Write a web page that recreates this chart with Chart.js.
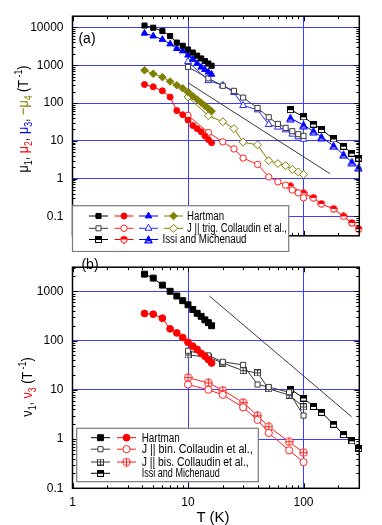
<!DOCTYPE html>
<html>
<head>
<meta charset="utf-8">
<script src="https://cdn.jsdelivr.net/npm/chart.js@4.4.0/dist/chart.umd.min.js"></script>
<style>
  body { margin: 0; background: #fff; width: 382px; height: 525px; position: relative; overflow: hidden;
         font-family: "Liberation Sans", Arial, sans-serif; }
  canvas { position: absolute; left: 0; }
  #panelA { top: 0; }
  #panelB { top: 251px; }
  .txt { position: absolute; white-space: nowrap; color: #000; transform: translate(-50%, -50%); }
  .ytitle { font-size: 15px; transform: translate(-50%, -50%) rotate(-90deg) scaleX(0.84); }
  .ytitle sub, .ytitle sup { font-size: 70%; }
  .red { color: #ff0000; } .blue { color: #0000ff; } .olive { color: #808000; }
</style>
</head>
<body>
<canvas id="panelA" width="382" height="252"></canvas>
<canvas id="panelB" width="382" height="274"></canvas>

<div class="txt" style="left:87px; top:38px; font-size:14px;">(a)</div>
<div class="txt" style="left:90px; top:264px; font-size:14px;">(b)</div>
<div class="txt ytitle" style="left:23px; top:119px;">μ<sub>1</sub>, <span class="red">μ<sub>2</sub></span>, <span class="blue">μ<sub>3</sub></span>, <span class="olive">−μ<sub>4</sub></span> (T<sup> -1</sup>)</div>
<div class="txt ytitle" style="left:27px; top:387px;">ν<sub>1</sub>, <span class="red">ν<sub>3</sub></span> (T<sup> -1</sup>)</div>
<div class="txt" style="left:213px; top:516px; font-size:15px;">T (K)</div>

<script>
// Shared x axis (temperature, K)
const xTickValues = [1, 10, 100];

// Hartman, panel (a) and (b)
const hartT = [4.2, 5, 6, 7, 8, 9, 10, 11, 12, 13, 14, 15, 16];
const hartMu1 = [11200, 9800, 8000, 5900, 3960, 3260, 2600, 2160, 1790, 1510, 1290, 1110, 970];
const hartMu2 = [308, 268, 210, 144, 63, 49, 35.5, 25.3, 21, 17.3, 13.5, 10.8, 8.9];
const hartMu3 = [7000, 5900, 4800, 3650, 2750, 2380, 1850, 1425, 1110, 885, 764, 655, 575];
const hartMu4 = [733, 594, 484, 371, 295, 245, 195, 152, 124, 102, 85, 71, 61];
const hartNu1 = [2230, 1850, 1335, 1000, 803, 645, 532, 427, 358, 310, 263, 231, 200];
const hartNu3 = [354, 343, 284, 173, 143, 115, 92, 77, 66, 55, 48, 41, 35];

// Collaudin et al., J || trig.
const trigT = [10, 15, 20, 25, 30, 40, 50, 60, 70, 80, 90, 100];
const trigMu1 = [900, 450, 285, 210, 139, 74, 42, 28, 22, 18, 15, 13.5];
const trigMu2 = [47, 16.6, 9.4, 6.1, 3.5, 2.37, 1.11, 0.82, 0.67, 0.5, 0.42, 0.31];
const trigMu3 = [1250, 390, 295, 190, 86, 66, 27, 23, 19.5, 15, 12.8, 11];
const trigMu4 = [144, 46, 32, 21, 9.2, 7.8, 3.0, 2.5, 2.2, 1.75, 1.5, 1.28];

// Collaudin et al., J || bin. and J || bis.
const binT = [10, 15, 20, 30, 40, 50, 75, 100];
const binNu1 = [62, 50, 37, 32, 12.8, 11.4, 8.9, 3.0];
const binNu3 = [12.8, 10, 7.9, 4.4, 2.45, 1.33, 0.59, 0.34];
const bisNu1 = [51, 46, 35, 24.5, 22, 10.5, 7.8, 4.5];
const bisNu3 = [17.7, 13.8, 9.8, 5.5, 2.97, 1.78, 0.88, 0.53];

// Issi and Michenaud
const issiT = [77, 100, 122, 143, 182, 222, 262, 300];
const issiMu1 = [67, 43, 27.7, 20, 11.2, 7.2, 4.7, 3.5];
const issiMu2 = [0.63, 0.41, 0.31, 0.214, 0.158, 0.1, 0.067, 0.046];
const issiMu3 = [40, 26, 18, 12.5, 7.4, 4.3, 2.75, 1.95];
const issiNu1 = [10.3, 6.8, 4.6, 3.5, 2.0, 1.23, 0.92, 0.64];

// T^-2 guide lines
const guideAT = [10, 170];
const guideAV = [344, 1.34];
const guideBT = [15.3, 261];
const guideBV = [803, 2.83];

const RED = '#ff0000', BLUE = '#0000ff', OLIVE = '#808000', BLACK = '#000000', GREY = '#3a3a3a';
const GRID = '#3c3cff';

// Small canvas markers for the half-filled / crossed symbols
function makeIcon(kind, color, size) {
  const c = document.createElement('canvas');
  c.width = size; c.height = size;
  const g = c.getContext('2d');
  const m = size / 2, r = m - 0.7;
  g.lineWidth = 1;
  g.strokeStyle = color;
  g.fillStyle = '#fff';
  if (kind === 'halfSquare' || kind === 'plusSquare') {
    g.fillRect(0.5, 0.5, size - 1, size - 1);
    if (kind === 'halfSquare') {
      g.fillStyle = color;
      g.fillRect(0.5, 0.5, size - 1, m);
    } else {
      g.beginPath();
      g.moveTo(m, 0.5); g.lineTo(m, size - 0.5);
      g.moveTo(0.5, m); g.lineTo(size - 0.5, m);
      g.stroke();
    }
    g.strokeRect(0.5, 0.5, size - 1, size - 1);
  } else if (kind === 'halfCircle' || kind === 'plusCircle') {
    g.beginPath(); g.arc(m, m, r, 0, 2 * Math.PI); g.fill();
    if (kind === 'halfCircle') {
      g.fillStyle = color;
      g.beginPath(); g.arc(m, m, r, Math.PI, 2 * Math.PI); g.closePath(); g.fill();
    } else {
      g.beginPath();
      g.moveTo(m, m - r); g.lineTo(m, m + r);
      g.moveTo(m - r, m); g.lineTo(m + r, m);
      g.stroke();
    }
    g.beginPath(); g.arc(m, m, r, 0, 2 * Math.PI); g.stroke();
  } else if (kind === 'halfTri') {
    g.beginPath();
    g.moveTo(m, 0.7); g.lineTo(size - 0.7, size - 1); g.lineTo(0.7, size - 1); g.closePath();
    g.fillStyle = color; g.fill();
    g.fillStyle = '#fff';
    g.fillRect(2.5, size - 2.6, size - 5, 1.2);
    g.stroke();
  }
  return c;
}

function series(xs, ys, color, style, radius, fill, extra) {
  return Object.assign({
    data: xs.map((x, i) => ({ x: x, y: ys[i] })),
    showLine: true,
    borderColor: color,
    borderWidth: 1,
    pointStyle: style,
    pointRadius: radius,
    pointBorderColor: color,
    pointBackgroundColor: fill,
    pointBorderWidth: 1,
    clip: 3
  }, extra || {});
}

function guide(xs, ys) {
  return {
    data: xs.map((x, i) => ({ x: x, y: ys[i] })),
    showLine: true, borderColor: GREY, borderWidth: 1, pointRadius: 0
  };
}

// Values m*10^k inside [min, max], with major flag for decades
function logMarks(min, max) {
  const out = [];
  for (let k = Math.floor(Math.log10(min)); k <= Math.ceil(Math.log10(max)); k++) {
    for (let m = 1; m <= 9; m++) {
      const v = m * Math.pow(10, k);
      if (v >= min * 0.999 && v <= max * 1.001) out.push({ v: v, major: m === 1 });
    }
  }
  return out;
}

function drawLegend(chart, L) {
  const ctx = chart.ctx;
  const sets = chart.data.datasets;
  ctx.save();
  ctx.fillStyle = '#fff';
  ctx.fillRect(L.x, L.y, L.w, L.h);
  ctx.strokeStyle = '#7a7a7a';
  ctx.lineWidth = 1.2;
  ctx.strokeRect(L.x, L.y, L.w, L.h);
  ctx.font = '12px "Liberation Sans", Arial, sans-serif';
  ctx.textBaseline = 'middle';
  L.rows.forEach(row => {
    row.items.forEach((idx, j) => {
      const d = sets[idx];
      const cx = L.cols[j];
      ctx.strokeStyle = d.borderColor;
      ctx.lineWidth = 1;
      ctx.beginPath();
      ctx.moveTo(cx - 9.5, row.y); ctx.lineTo(cx + 9.5, row.y);
      ctx.stroke();
      ctx.fillStyle = d.pointBackgroundColor;
      ctx.strokeStyle = d.pointBorderColor;
      Chart.helpers.drawPoint(ctx, {
        pointStyle: d.pointStyle, radius: d.pointRadius, rotation: 0, borderWidth: 1
      }, cx, row.y);
    });
    ctx.fillStyle = '#000';
    // the source uses a narrow face, so squeeze to the measured width
    ctx.fillText(row.text, row.tx, row.y + 0.5, row.tw);
  });
  ctx.restore();
}

// Frame with inward ticks on all four sides, then the legend box
const framePlugin = {
  id: 'frame',
  afterDatasetsDraw(chart, args, opts) {
    const ctx = chart.ctx, a = chart.chartArea;
    const xs = chart.scales.x, ys = chart.scales.y;
    ctx.save();
    ctx.strokeStyle = '#000';
    ctx.lineWidth = 1;
    ctx.beginPath();
    logMarks(xs.min, xs.max).forEach(t => {
      const p = Math.round(xs.getPixelForValue(t.v)) + 0.5;
      const len = t.major ? 5 : 3;
      ctx.moveTo(p, a.bottom); ctx.lineTo(p, a.bottom - len);
      ctx.moveTo(p, a.top); ctx.lineTo(p, a.top + len);
    });
    logMarks(ys.min, ys.max).forEach(t => {
      const p = Math.round(ys.getPixelForValue(t.v)) + 0.5;
      const len = t.major ? 5 : 3;
      ctx.moveTo(a.left, p); ctx.lineTo(a.left + len, p);
      ctx.moveTo(a.right, p); ctx.lineTo(a.right - len, p);
    });
    ctx.stroke();
    ctx.lineWidth = 1.5;
    ctx.strokeRect(a.left, a.top, a.right - a.left, a.bottom - a.top);
    ctx.restore();
    if (opts && opts.legend) drawLegend(chart, opts.legend);
  }
};

function panelOptions(yMin, yMax, yTicks, padding, xHeight, showXLabels, legend) {
  return {
    responsive: false,
    devicePixelRatio: 1,
    animation: false,
    events: [],
    layout: { padding: padding },
    plugins: {
      legend: { display: false },
      tooltip: { enabled: false },
      frame: { legend: legend }
    },
    scales: {
      x: {
        type: 'logarithmic',
        min: 1,
        max: 304,
        afterBuildTicks: s => { s.ticks = xTickValues.map(v => ({ value: v, major: true })); },
        afterFit: s => { s.height = xHeight; },
        grid: { color: GRID, lineWidth: 1, drawTicks: false },
        border: { display: false },
        ticks: {
          display: showXLabels,
          padding: 7,
          color: '#000',
          font: { family: '"Liberation Sans", Arial, sans-serif', size: 12 },
          maxRotation: 0,
          callback: v => String(v)
        }
      },
      y: {
        type: 'logarithmic',
        min: yMin,
        max: yMax,
        afterBuildTicks: s => { s.ticks = yTicks.map(v => ({ value: v, major: true })); },
        afterFit: s => { s.width = 72.5; },
        grid: { color: GRID, lineWidth: 1, drawTicks: false },
        border: { display: false },
        ticks: {
          padding: 9,
          color: '#000',
          font: { family: '"Liberation Sans", Arial, sans-serif', size: 12 },
          callback: v => String(v)
        }
      }
    }
  };
}

const yTicksA = [0.1, 1, 10, 100, 1000, 10000];
const yTicksB = [0.1, 1, 10, 100, 1000];

const issiSquare = makeIcon('halfSquare', BLACK, 7);
const issiCircle = makeIcon('halfCircle', RED, 8);
const issiTri = makeIcon('halfTri', BLUE, 9);
const bisSquare = makeIcon('plusSquare', GREY, 7);
const bisCircle = makeIcon('plusCircle', '#ff2020', 9);

// Panel (a)
new Chart(document.getElementById('panelA'), {
  type: 'scatter',
  data: {
    datasets: [
      series(hartT, hartMu1, BLACK, 'rect', 3.6, BLACK),            // 0
      series(hartT, hartMu2, RED, 'circle', 3, RED),                // 1
      series(hartT, hartMu3, BLUE, 'triangle', 3.8, BLUE),          // 2
      series(hartT, hartMu4, OLIVE, 'rectRot', 3.8, OLIVE),         // 3
      series(trigT, trigMu1, GREY, 'rect', 3.6, '#fff'),            // 4
      series(trigT, trigMu2, '#ff2020', 'circle', 3.2, '#fff'),     // 5
      series(trigT, trigMu3, '#2a2aff', 'triangle', 4, '#fff'),     // 6
      series(trigT, trigMu4, OLIVE, 'rectRot', 4, '#fff'),          // 7
      series(issiT, issiMu1, BLACK, issiSquare, 3.5, '#fff'),       // 8
      series(issiT, issiMu2, RED, issiCircle, 3.5, '#fff'),         // 9
      series(issiT, issiMu3, BLUE, issiTri, 3.5, '#fff'),           // 10
      guide(guideAT, guideAV)                                       // 11
    ]
  },
  options: panelOptions(0.0307, 19800, yTicksA,
    { top: 16, right: 22.7, bottom: 0.5, left: 0 }, 0, false, {
      x: 72.5, y: 205.7, w: 216.2, h: 45.8,
      cols: [98.5, 124, 148.5, 173.5],
      rows: [
        { items: [0, 1, 2, 3], text: 'Hartman', tx: 187, y: 216, tw: 37 },
        { items: [4, 5, 6, 7], text: 'J || trig. Collaudin et al.,', tx: 187, y: 228.3, tw: 100 },
        { items: [8, 9, 10], text: 'Issi and Michenaud', tx: 162.5, y: 239.5, tw: 84 }
      ]
    })
  ,
  plugins: [framePlugin]
});

// Panel (b)
new Chart(document.getElementById('panelB'), {
  type: 'scatter',
  data: {
    datasets: [
      series(hartT, hartNu1, BLACK, 'rect', 4.2, BLACK),            // 0
      series(hartT, hartNu3, RED, 'circle', 3.4, RED),              // 1
      series(binT, binNu1, GREY, 'rect', 3.6, '#fff'),              // 2
      series(binT, binNu3, '#ff2020', 'circle', 3.6, '#fff'),       // 3
      series(binT, bisNu1, GREY, bisSquare, 3.5, '#fff'),           // 4
      series(binT, bisNu3, '#ff2020', bisCircle, 3.5, '#fff'),      // 5
      series(issiT, issiNu1, BLACK, issiSquare, 3.5, '#fff'),       // 6
      guide(guideBT, guideBV)                                       // 7
    ]
  },
  options: panelOptions(0.1, 3085, yTicksB,
    { top: 0.5, right: 22.7, bottom: 0, left: 0 }, 36.7, true, {
      x: 76.7, y: 177.3, w: 181.6, h: 53.4,
      cols: [100.5, 126.5],
      rows: [
        { items: [0, 1], text: 'Hartman', tx: 141.7, y: 186.7, tw: 38 },
        { items: [2, 3], text: 'J || bin. Collaudin et al.,', tx: 141.7, y: 198.2, tw: 111 },
        { items: [4, 5], text: 'J || bis. Collaudin et al.,', tx: 141.7, y: 211, tw: 107 },
        { items: [6], text: 'Issi and Michenaud', tx: 141.7, y: 222.3, tw: 78 }
      ]
    }),
  plugins: [framePlugin]
});
</script>
</body>
</html>
